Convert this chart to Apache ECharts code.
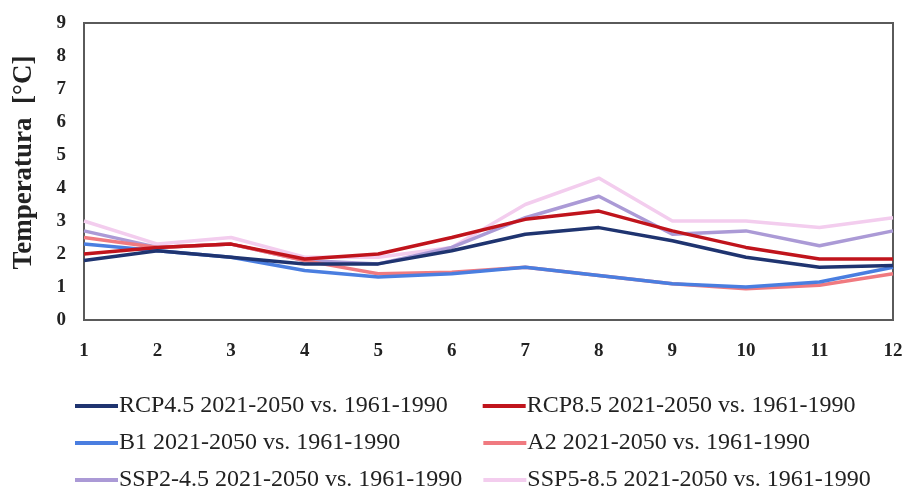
<!DOCTYPE html>
<html>
<head>
<meta charset="utf-8">
<script src="https://cdn.jsdelivr.net/npm/echarts@6/dist/echarts.min.js"></script>
<style>
  html, body { margin: 0; padding: 0; background: #fff; }
  #chart { width: 907px; height: 497px; }
</style>
</head>
<body>
<div id="chart"></div>
<script>
const months = ['1','2','3','4','5','6','7','8','9','10','11','12'];
const yTicks = [0,1,2,3,4,5,6,7,8,9];
const seriesNames = [
  'RCP4.5 2021-2050 vs. 1961-1990',
  'RCP8.5 2021-2050 vs. 1961-1990',
  'B1 2021-2050 vs. 1961-1990',
  'A2 2021-2050 vs. 1961-1990',
  'SSP2-4.5 2021-2050 vs. 1961-1990',
  'SSP5-8.5 2021-2050 vs. 1961-1990'
];
const rcp45 = [1.8, 2.1, 1.9, 1.7, 1.7, 2.1, 2.6, 2.8, 2.4, 1.9, 1.6, 1.65];
const rcp85 = [2.0, 2.2, 2.3, 1.85, 2.0, 2.5, 3.05, 3.3, 2.7, 2.2, 1.85, 1.85];
const b1    = [2.3, 2.1, 1.9, 1.5, 1.3, 1.4, 1.6, 1.35, 1.1, 1.0, 1.15, 1.6];
const a2    = [2.5, 2.2, 2.3, 1.8, 1.4, 1.45, 1.6, 1.35, 1.1, 0.95, 1.05, 1.4];
const ssp245 = [2.7, 2.2, 2.3, 1.8, 1.7, 2.2, 3.1, 3.75, 2.6, 2.7, 2.25, 2.7];
const ssp585 = [3.0, 2.3, 2.5, 1.9, 1.9, 2.2, 3.5, 4.3, 3.0, 3.0, 2.8, 3.1];
const colors = ['#1f3470', '#c0141c', '#4a7ee0', '#f07a80', '#ab9ad6', '#f3cdee'];

const values = [rcp45, rcp85, b1, a2, ssp245, ssp585];
const drawOrder = [5, 4, 3, 2, 1, 0];

const serif = '"Liberation Serif", "Times New Roman", serif';
const chart = echarts.init(document.getElementById('chart'), null, { renderer: 'canvas' });

const legendRows = [[0, 1], [2, 3], [4, 5]];
const legendTops = [389, 426, 463];
const legendGaps = [35, 83, 21];

const option = {
  backgroundColor: '#ffffff',
  animation: false,
  grid: {
    left: 84, right: 14, top: 23, bottom: 177,
    outerBoundsMode: 'none',
    containLabel: false,
    show: true, borderColor: '#5a5a5a', borderWidth: 2,
    backgroundColor: 'transparent'
  },
  xAxis: {
    type: 'category',
    data: months,
    boundaryGap: false,
    axisLine: { show: false },
    axisTick: { show: false },
    splitLine: { show: false },
    axisLabel: {
      margin: 22,
      fontFamily: serif, fontWeight: 'bold', fontSize: 19, color: '#222'
    }
  },
  yAxis: {
    type: 'value',
    min: yTicks[0], max: yTicks[yTicks.length - 1], interval: 1,
    axisLine: { show: false },
    axisTick: { show: false },
    splitLine: { show: false },
    name: 'Temperatura  [°C]',
    nameLocation: 'middle',
    nameGap: 46,
    nameRotate: 90,
    nameTextStyle: {
      fontFamily: serif, fontWeight: 'bold', fontSize: 27, color: '#222',
      padding: [0, 0, 0, 18]
    },
    axisLabel: {
      margin: 18,
      fontFamily: serif, fontWeight: 'bold', fontSize: 19, color: '#222'
    }
  },
  legend: legendRows.map((row, i) => ({
    data: row.map(k => seriesNames[k]),
    left: 70,
    top: legendTops[i],
    orient: 'horizontal',
    icon: 'rect',
    itemWidth: 43,
    itemHeight: 4,
    itemGap: legendGaps[i],
    textStyle: {
      fontFamily: serif, fontSize: 24, color: '#222',
      padding: [0, 0, 0, -4]
    }
  })),
  series: drawOrder.map(k => ({
    name: seriesNames[k],
    type: 'line',
    data: values[k],
    symbol: 'none',
    smooth: false,
    z: 2 + (5 - k),
    itemStyle: { color: colors[k] },
    lineStyle: { color: colors[k], width: 3.5 }
  }))
};
chart.setOption(option);
</script>
</body>
</html>
